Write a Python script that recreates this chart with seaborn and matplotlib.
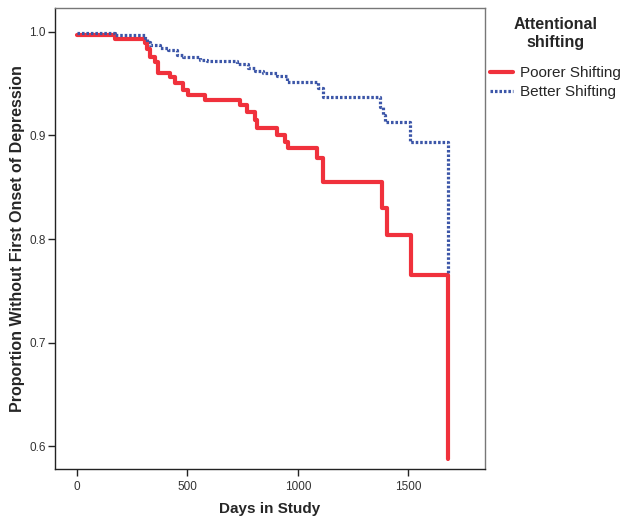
import matplotlib
matplotlib.use("Agg")
import matplotlib.pyplot as plt
import pandas as pd
import seaborn as sns

# Kaplan-Meier style step data
poorer_days = [0, 172, 308, 317, 330, 353, 367, 421, 444, 480, 502, 580,
               738, 769, 806, 815, 905, 941, 955, 1086, 1113, 1380, 1403,
               1511, 1680, 1680]
poorer_surv = [0.997, 0.993, 0.989, 0.983, 0.976, 0.971, 0.960, 0.956, 0.951,
               0.944, 0.939, 0.934, 0.929, 0.923, 0.915, 0.907, 0.900, 0.894,
               0.888, 0.878, 0.855, 0.830, 0.804, 0.765, 0.765, 0.588]

better_days = [0, 172, 308, 318, 330, 376, 412, 452, 480, 557, 588, 724,
               774, 806, 842, 905, 950, 973, 1091, 1113, 1371, 1385, 1394,
               1507, 1680, 1680]
better_surv = [0.999, 0.997, 0.994, 0.990, 0.987, 0.984, 0.982, 0.978, 0.976,
               0.973, 0.972, 0.969, 0.965, 0.962, 0.960, 0.957, 0.952, 0.952,
               0.946, 0.937, 0.927, 0.920, 0.913, 0.894, 0.894, 0.767]

group_labels = ["Poorer Shifting", "Better Shifting"]
x_ticks = [0, 500, 1000, 1500]
y_ticks = [0.6, 0.7, 0.8, 0.9, 1.0]

sns.set_style("ticks")
plt.rcParams["font.family"] = ["Liberation Sans", "DejaVu Sans"]

poorer = pd.DataFrame({"days": poorer_days, "surv": poorer_surv})
better = pd.DataFrame({"days": better_days, "surv": better_surv})

fig = plt.figure(figsize=(6.38, 5.26), dpi=100)
ax = fig.add_axes([0.0862, 0.1084, 0.674, 0.8764])

sns.lineplot(data=poorer, x="days", y="surv", ax=ax, estimator=None,
             sort=False, drawstyle="steps-post", color="#f0313c",
             linewidth=3.0, label=group_labels[0])
sns.lineplot(data=better, x="days", y="surv", ax=ax, estimator=None,
             sort=False, drawstyle="steps-post", color="#3c56a8",
             linewidth=2.3, linestyle=(0, (0.8, 0.6)),
             dash_capstyle="butt", label=group_labels[1])

ax.set_xlim(-100, 1848)
ax.set_ylim(0.578, 1.023)
ax.set_xticks(x_ticks)
ax.set_yticks(y_ticks)
ax.set_yticklabels([f"{v:.1f}" for v in y_ticks])
ax.tick_params(axis="both", labelsize=8.5, labelcolor="#333333", length=5,
               width=1, color="#222222", direction="out")
ax.tick_params(axis="y", pad=1.5)
ax.tick_params(axis="x", pad=4)
ax.set_xlabel("Days in Study", fontsize=11, fontweight="bold", labelpad=6)
ax.set_ylabel("Proportion Without First Onset of Depression", fontsize=11.5,
              fontweight="bold", labelpad=3)
for side in ["top", "right"]:
    ax.spines[side].set_visible(True)
    ax.spines[side].set_color("#777777")
for side in ["left", "bottom"]:
    ax.spines[side].set_color("#222222")
for s in ax.spines.values():
    s.set_linewidth(1.0)

leg = ax.legend(loc="upper left", bbox_to_anchor=(0.99, 1.0),
                frameon=False, title="Attentional\nshifting", fontsize=11,
                title_fontproperties={"weight": "bold", "size": 11.5},
                handlelength=1.5, handletextpad=0.45, labelspacing=0.32,
                borderaxespad=0.2)
leg.get_title().set_multialignment("center")
leg._legend_box.sep = 12

fig.savefig("out.png", dpi=100)
